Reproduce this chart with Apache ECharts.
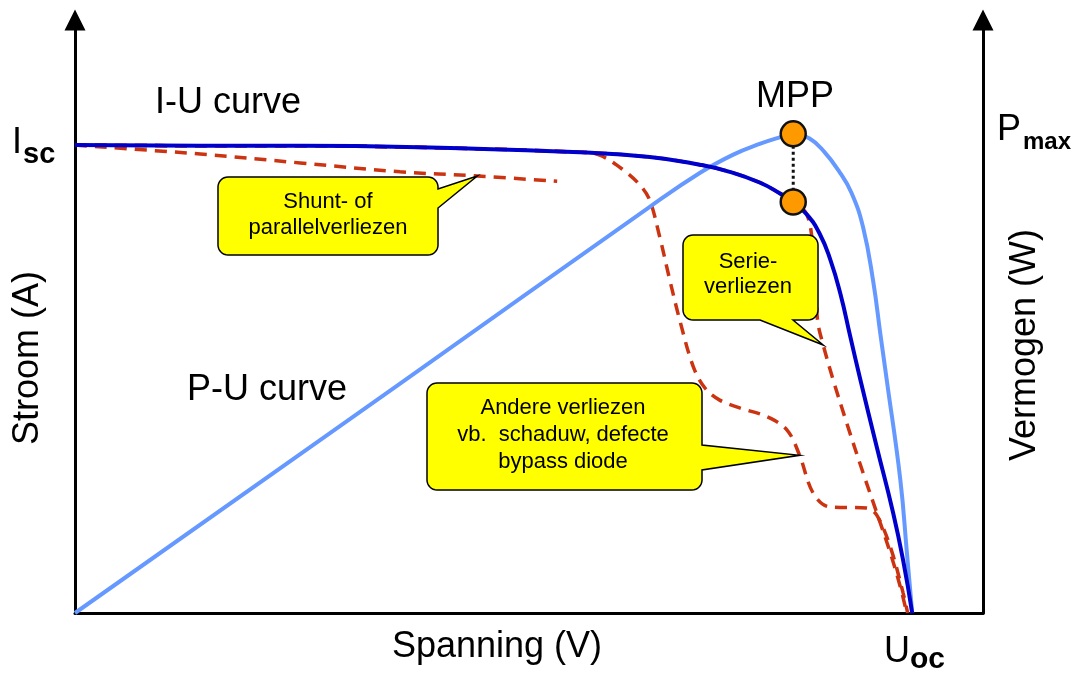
<!DOCTYPE html>
<html>
<head>
<meta charset="utf-8">
<title>I-U en P-U curve</title>
<script src="https://cdn.jsdelivr.net/npm/echarts@6/dist/echarts.min.js"></script>
<style>
  html, body { margin: 0; padding: 0; background: #fff; }
  #main { width: 1076px; height: 673px; }
</style>
</head>
<body>
<div id="main"></div>
<script>
// spanning (x) en stroom/vermogen (y), willekeurige eenheden 0..100
var iuCurve = [[0,78.9],[13.8,78.8],[24.8,78.8],[41.3,78.4],[55.6,77.7],[63.3,76.9],[68.8,75.6],[72.1,74.4],
  [75.4,72.6],[77.6,70.8],[79.1,69.3],[80.6,67.2],[82.0,64.0],[83.2,59.5],[84.3,53.8],[85.4,46.5],[86.5,39.3],
  [88.3,28.0],[90.1,16.9],[91.2,8.9],[92.2,0]];
var puCurve = [[0,0],[35.8,38.7],[63.3,68.5],[68.8,74.2],[72.5,77.3],[75.4,79.1],[77.6,80.2],[79.1,80.8],
  [80.9,80.0],[82.5,77.8],[84.1,74.6],[85.5,70.9],[86.8,65.0],[87.9,56.0],[88.7,47.0],[89.4,39.3],[90.9,22.4],
  [91.6,10.5],[92.2,0]];
var shuntCurve = [[0,78.9],[13.8,77.4],[24.8,75.9],[35.8,74.4],[44.3,73.7],[53.1,72.8]];
var serieCurve = [[0,78.9],[13.8,78.8],[24.8,78.8],[41.3,78.4],[55.6,77.7],[63.3,76.9],[68.8,75.6],[72.1,74.4],
  [75.4,72.6],[77.6,70.8],[79.1,69.3],[80.6,67.2],[81.3,61.2],[81.6,54.5],[81.8,49.1],[82.4,45.2],[83.5,39.3],
  [85.0,32.0],[86.8,23.6],[88.3,16.9],[89.8,10.1],[90.9,4.4],[91.6,0]];
var andereCurve = [[0,78.9],[13.8,78.8],[24.8,78.8],[41.3,78.4],[55.6,77.7],[57.8,77.2],[60.4,74.7],[62.2,72.2],
  [63.3,69.6],[64.4,63.4],[65.5,56.2],[66.6,49.4],[68.1,41.5],[69.4,37.9],[71.0,35.9],[73.2,34.6],[76.2,33.1],
  [78.4,30.9],[79.8,26.6],[81.3,20.2],[83.1,17.9],[87.2,17.7],[88.3,16.5],[89.8,11.1],[91.2,3.4],[91.7,0]];
var mppU = 79.1, mppP = 80.8, mppI = 69.3;

var FONT = '"Liberation Sans", Arial, sans-serif';
var chart = echarts.init(document.getElementById('main'));

function axisStyle(arrow) {
  return {
    show: true, onZero: false,
    symbol: arrow ? ['none', 'triangle'] : 'none',
    symbolSize: [21, 21],
    lineStyle: { color: '#000', width: 3 }
  };
}

function curve(name, data, color, width, type, z, smooth, yIdx) {
  return {
    name: name, type: 'line', data: data, yAxisIndex: yIdx || 0,
    smooth: smooth, showSymbol: false, silent: true, z: z,
    lineStyle: { color: color, width: width, type: type }
  };
}

chart.setOption({
  animation: false,
  backgroundColor: '#fff',
  grid: { left: 75, right: 93, top: 20, bottom: 60 },
  xAxis: { type: 'value', min: 0, max: 100, axisLine: axisStyle(false),
    axisTick: { show: false }, axisLabel: { show: false }, splitLine: { show: false } },
  yAxis: [
    { type: 'value', min: 0, max: 100, axisLine: axisStyle(true),
      axisTick: { show: false }, axisLabel: { show: false }, splitLine: { show: false } },
    { type: 'value', min: 0, max: 100, position: 'right', axisLine: axisStyle(true),
      axisTick: { show: false }, axisLabel: { show: false }, splitLine: { show: false } }
  ],
  series: [
    curve('shunt', shuntCurve, '#cc3311', 3.5, [12, 8], 2, 0.35),
    curve('serie', serieCurve, '#cc3311', 3.5, [12, 8], 2, 0.35),
    curve('andere', andereCurve, '#cc3311', 3.5, [12, 8], 2, 0.35),
    curve('P-U', puCurve, '#6699ff', 4, 'solid', 3, 0.45, 1),
    curve('I-U', iuCurve, '#0000cc', 4, 'solid', 4, 0.5),
    {
      type: 'line', data: [[mppU, mppP], [mppU, mppI]], showSymbol: false, silent: true, z: 5,
      lineStyle: { color: '#111', width: 3, type: 'dotted' }
    },
    {
      type: 'scatter', data: [[mppU, mppP], [mppU, mppI]], symbolSize: 25, silent: true, z: 6,
      itemStyle: { color: '#ff9900', borderColor: '#111', borderWidth: 2.5, opacity: 1 }
    }
  ]
});

// tekstballon: afgeronde rechthoek met punt naar een punt op de curve
function bubble(x, y, w, h, r, side, a, b, tip) {
  var pts = [];
  function arc(cx, cy, from, to) {
    for (var i = 0; i <= 8; i++) {
      var t = (from + (to - from) * i / 8) * Math.PI / 180;
      pts.push([cx + r * Math.cos(t), cy + r * Math.sin(t)]);
    }
  }
  if (side === 'top') { pts.push([a, y], tip, [b, y]); }
  arc(x + w - r, y + r, -90, 0);
  if (side === 'right') { pts.push([x + w, a], tip, [x + w, b]); }
  arc(x + w - r, y + h - r, 0, 90);
  if (side === 'bottom') { pts.push([b, y + h], tip, [a, y + h]); }
  arc(x + r, y + h - r, 90, 180);
  arc(x + r, y + r, 180, 270);
  return {
    type: 'polygon', z: 100, silent: true,
    shape: { points: pts },
    style: { fill: '#ffff00', stroke: '#000', lineWidth: 1.5 }
  };
}

function txt(x, y, s, size, o) {
  o = o || {};
  return {
    type: 'text', x: x, y: y, rotation: o.rot || 0, z: 110, silent: true,
    style: {
      text: s, fill: '#000', fontSize: size, fontFamily: FONT, fontWeight: o.bold ? 'bold' : 'normal',
      align: o.align || 'left', textAlign: o.align || 'left',
      verticalAlign: 'middle', textVerticalAlign: 'middle', lineHeight: o.lh || size
    }
  };
}

var px = function (p) { return chart.convertToPixel({ seriesIndex: 0 }, p); };
var shuntTip = px(shuntCurve[4]);
var serieTip = px(serieCurve[15]);
var andereTip = px(andereCurve[18]);

chart.setOption({
  graphic: [
    bubble(218, 177, 220, 78, 10, 'right', 189, 208, shuntTip),
    bubble(683, 235, 135, 85, 10, 'bottom', 760, 793, serieTip),
    bubble(427, 383, 275, 107, 10, 'right', 445, 470, andereTip),
    txt(328, 215, 'Shunt- of\nparallelverliezen', 22, { align: 'center', lh: 26 }),
    txt(748, 274, 'Serie-\nverliezen', 22, { align: 'center', lh: 25 }),
    txt(563, 435, 'Andere verliezen\nvb.  schaduw, defecte\nbypass diode', 22, { align: 'center', lh: 27 }),
    txt(155, 103, 'I-U curve', 36),
    txt(187, 390, 'P-U curve', 36),
    txt(795, 97, 'MPP', 36, { align: 'center' }),
    txt(497, 647, 'Spanning (V)', 36, { align: 'center' }),
    txt(28, 358, 'Stroom (A)', 36, { align: 'center', rot: Math.PI / 2 }),
    txt(1025, 345, 'Vermogen (W)', 36, { align: 'center', rot: Math.PI / 2 }),
    txt(12, 143, 'I', 36),
    txt(23, 155, 'sc', 29, { bold: true }),
    txt(997, 130, 'P', 36),
    txt(1023, 142, 'max', 24, { bold: true }),
    txt(884, 652, 'U', 36),
    txt(910, 660, 'oc', 30, { bold: true })
  ]
});
</script>
</body>
</html>
